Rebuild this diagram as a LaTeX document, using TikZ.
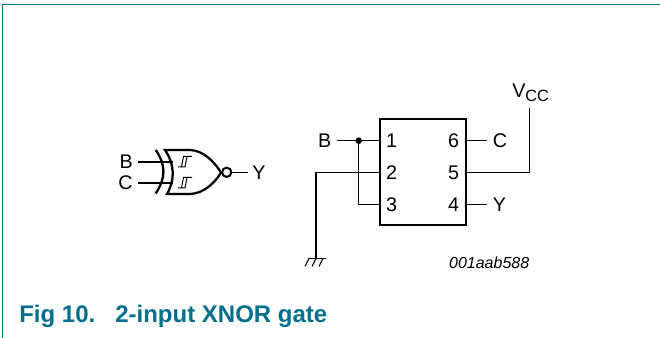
\documentclass[tikz,border=0pt]{standalone}
\usepackage{fontspec}
\setmainfont{Liberation Sans}
\definecolor{frame}{HTML}{006F8C}
\tikzset{
 wire/.style={line width=0.8pt,black},
 thick line/.style={line width=1.7pt,black},
 lab/.style={font=\fontsize{14.8}{16}\selectfont,inner sep=0pt,text=black},
 pinlab/.style={lab},
 dotmark/.style={circle,fill=black,inner sep=0pt,minimum size=5pt},
 bubble/.style={circle,draw=black,line width=1.5pt,fill=white,inner sep=0pt,minimum size=7pt},
 chipbox/.style={draw=black,line width=1.7pt,inner sep=0pt,minimum width=64.3pt,minimum height=79.5pt},
}
\begin{document}
\begin{tikzpicture}[x=0.75pt,y=-0.75pt]
\useasboundingbox (0,0) rectangle (660,338);
% frame
\draw[frame,line width=0.9pt] (2.5,338) -- (2.5,4.5) -- (660,4.5);
\node[anchor=base west,inner sep=0pt,text=frame,font=\fontsize{18}{20}\bfseries\selectfont] (cap) at (19,322.5) {Fig 10.\hspace{15pt}2-input XNOR gate};
% gate
\coordinate (gb) at (173,162);
\coordinate (gc) at (173,183);
\node[lab,anchor=east] (B1) at (133,162) {B};
\node[lab,anchor=east] (C1) at (133,183) {C};
\draw[wire] (138,162) -- (gb);
\draw[wire] (138,183) -- (gc);
\draw[thick line] (155.7,150) .. controls (166,165) and (166,178) .. (155.7,193.5);
\draw[thick line,line join=miter] (165,150) .. controls (175,165) and (175,180) .. (167,194)
  -- (190,194) .. controls (203,193.5) and (214,184) .. (221,172.7)
  .. controls (214,161) and (203,150.5) .. (190,150) -- cycle;
\foreach \yy in {162,183}{
  \draw[line width=0.75pt] (178,\yy+5) -- (185,\yy+5) -- (187,\yy-5.5) -- (192,\yy-5.5);
  \draw[line width=0.75pt] (181.5,\yy+5) -- (183.5,\yy-5.5) -- (188,\yy-5.5);
}
\node[bubble] (inv) at (226.7,172.3) {};
\node[lab,anchor=west] (Y1) at (252,172.3) {Y};
\draw[wire] (inv.east) -- (248,172.3);
% chip
\node[chipbox] (ic) at (422.8,172.3) {};
\node[pinlab] (p1) at (391.5,140.7) {1};
\node[pinlab] (p2) at (391.5,172.7) {2};
\node[pinlab] (p3) at (391.5,204.7) {3};
\node[pinlab] (p6) at (453.5,140.7) {6};
\node[pinlab] (p5) at (453.5,172.7) {5};
\node[pinlab] (p4) at (453.5,204.7) {4};
\node[lab,anchor=east] (B2) at (331.5,140.7) {B};
\node[lab,anchor=west] (C2) at (492.5,140.7) {C};
\node[lab,anchor=west] (Y2) at (492.5,204.7) {Y};
\node[lab,anchor=base west] (vcc) at (512,97.5) {V\raisebox{-3pt}{\fontsize{12.2}{14}\selectfont CC}};
\node[dotmark] (jn) at (358.7,140.7) {};
\coordinate (a1) at (380,140.7);
\coordinate (a2) at (380,172.7);
\coordinate (a3) at (380,204.7);
\coordinate (a6) at (465.7,140.7);
\coordinate (a5) at (465.7,172.7);
\coordinate (a4) at (465.7,204.7);
\coordinate (gnd) at (316,258.3);
\draw[wire] (336.7,140.7) -- (a1);
\draw[wire] (jn.center) |- (a3);
\draw[wire] (a2) -| (gnd);
\draw[wire] (a6) -- (487,140.7);
\draw[wire] (a4) -- (487,204.7);
\draw[wire] (a5) -| (529.3,108.3);
\draw[wire] (308.5,258.3) -- (325.5,258.3);
\foreach \xx in {309,316,323}{\draw[wire] (\xx,258.3) -- (\xx-4,266.5);}
\node[anchor=base east,inner sep=0pt,font=\fontsize{12}{14}\itshape\selectfont,text=black] (ref) at (529.5,268) {001aab588};
\end{tikzpicture}
\end{document}
